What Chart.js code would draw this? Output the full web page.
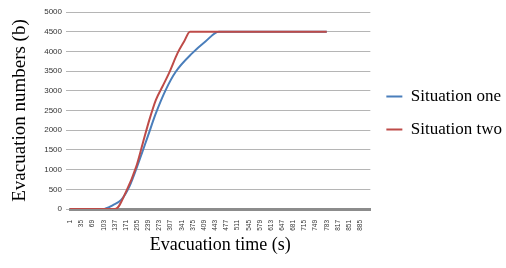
<!DOCTYPE html>
<html><head><meta charset="utf-8">
<script src="https://cdn.jsdelivr.net/npm/chart.js@4/dist/chart.umd.min.js"></script>
<style>html,body{margin:0;padding:0;background:#fff}#wrap{width:506px;height:268px;position:relative}</style>
</head><body><div id="wrap"><canvas id="c" width="506" height="268"></canvas></div>
<script>
const seriesNames = ["Situation one", "Situation two"];
const xTickValues = [1,35,69,103,137,171,205,239,273,307,341,375,409,443,477,511,545,579,613,647,681,715,749,783,817,851,885];
const yTickStep = 500;
const oneTimes  = [0, 100, 131, 156, 181, 212, 237, 262, 292, 323, 373, 413, 454, 783];
const oneValues = [0, 0, 100, 230, 567, 1245, 1838, 2432, 3025, 3490, 3957, 4253, 4500, 4500];
const twoTimes  = [0, 138, 171, 202, 222, 242, 262, 282, 302, 328, 348, 366, 783];
const twoValues = [0, 0, 440, 1075, 1670, 2262, 2770, 3110, 3450, 3957, 4253, 4500, 4500];
const xTitle = "Evacuation time (s)";
const yTitle = "Evacuation numbers (b)";

const toPts = (xs, ys) => xs.map((x, i) => ({x: x, y: ys[i]}));
const serif = "'Liberation Serif', 'Times New Roman', serif";
const sans = "'Liberation Sans', Arial, sans-serif";

new Chart(document.getElementById('c'), {
  type: 'line',
  data: {
    datasets: [
      {label: seriesNames[0], data: toPts(oneTimes, oneValues), borderColor: '#4a7ebb', backgroundColor: '#4a7ebb', borderWidth: 2, pointRadius: 0, cubicInterpolationMode: 'monotone', order: 1},
      {label: seriesNames[1], data: toPts(twoTimes, twoValues), borderColor: '#be4b48', backgroundColor: '#be4b48', borderWidth: 2, pointRadius: 0, cubicInterpolationMode: 'monotone', order: 0}
    ]
  },
  options: {
    responsive: false,
    animation: false,
    layout: {padding: {top: 12, right: -6, bottom: 0, left: 0}},
    plugins: {
      tooltip: {enabled: false},
      legend: {
        position: 'right',
        align: 'start',
        maxWidth: 200,
        title: {display: true, text: '', font: {size: 10}, padding: {top: 0, bottom: 48}},
        labels: {
          usePointStyle: true, pointStyle: 'line', pointStyleWidth: 16, boxWidth: 16, boxHeight: 2,
          font: {family: serif, size: 17}, color: '#000', padding: 16,
          sort: (a, b) => a.datasetIndex - b.datasetIndex
        }
      }
    },
    scales: {
      x: {
        type: 'linear', min: 0, max: 916,
        afterBuildTicks: s => { s.ticks = xTickValues.map(v => ({value: v})); },
        afterFit: s => { s.height = 59; },
        grid: {display: false},
        border: {display: true, color: '#8c8c8c', width: 3},
        ticks: {autoSkip: false, minRotation: 90, maxRotation: 90, padding: 3, font: {family: sans, size: 6.5}, color: '#333', callback: v => String(v)},
        title: {display: true, text: xTitle, font: {family: serif, size: 18}, color: '#000', padding: {top: 12, bottom: 12}}
      },
      y: {
        min: 0, max: 5000,
        afterFit: s => { s.width = 70; },
        ticks: {stepSize: yTickStep, padding: 4, font: {family: sans, size: 8}, color: '#333', callback: v => String(v)},
        grid: {color: '#b5b5b5', lineWidth: 1, tickLength: 4},
        border: {display: false},
        title: {display: true, text: yTitle, font: {family: serif, size: 19}, color: '#000', padding: {top: 9, bottom: 9}}
      }
    }
  }
});
</script></body></html>
